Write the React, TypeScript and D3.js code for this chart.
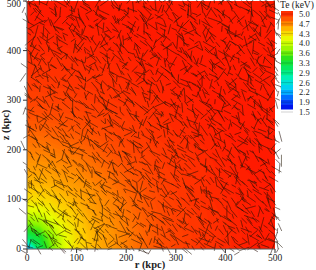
import React from "react";
import * as d3 from "d3";

// Te (keV) read on a 25 kpc mesh, first row is z = 0, first column r = 0
const teRows = [
  [2.0,3.0,3.55,3.95,4.2,4.35,4.45,4.52,4.6,4.67,4.74,4.8,4.84,4.87,4.9,4.92,4.95,4.97,5,5,5],
  [3.0,3.25,3.65,3.98,4.22,4.36,4.46,4.53,4.61,4.67,4.74,4.8,4.84,4.87,4.9,4.92,4.95,4.97,5,5,5],
  [3.55,3.65,3.9,4.1,4.28,4.4,4.48,4.55,4.62,4.69,4.75,4.81,4.85,4.88,4.9,4.93,4.95,4.97,5,5,5],
  [3.95,3.98,4.1,4.26,4.35,4.46,4.52,4.59,4.65,4.71,4.77,4.82,4.85,4.88,4.91,4.93,4.95,4.98,5,5,5],
  [4.2,4.22,4.28,4.35,4.44,4.49,4.55,4.6,4.67,4.73,4.79,4.83,4.87,4.9,4.92,4.94,4.96,4.98,5,5,5],
  [4.35,4.36,4.4,4.46,4.49,4.54,4.6,4.65,4.71,4.76,4.81,4.85,4.88,4.9,4.92,4.95,4.97,4.99,5,5,5],
  [4.45,4.46,4.48,4.52,4.55,4.6,4.64,4.69,4.75,4.79,4.83,4.86,4.89,4.91,4.93,4.95,4.97,4.99,5,5,5],
  [4.52,4.53,4.55,4.59,4.6,4.65,4.69,4.74,4.79,4.82,4.85,4.88,4.9,4.92,4.94,4.96,4.98,5,5,5,5],
  [4.6,4.61,4.62,4.65,4.67,4.71,4.75,4.79,4.82,4.85,4.87,4.89,4.91,4.93,4.95,4.97,4.99,5,5,5,5],
  [4.67,4.67,4.69,4.71,4.73,4.76,4.79,4.82,4.85,4.87,4.89,4.91,4.93,4.95,4.97,4.98,5,5,5,5,5],
  [4.74,4.74,4.75,4.77,4.79,4.81,4.83,4.85,4.87,4.89,4.91,4.93,4.95,4.96,4.98,4.99,5,5,5,5,5],
  [4.8,4.8,4.81,4.82,4.83,4.85,4.86,4.88,4.89,4.91,4.93,4.94,4.96,4.97,4.99,5,5,5,5,5,5],
  [4.84,4.84,4.85,4.85,4.87,4.88,4.89,4.9,4.91,4.93,4.95,4.96,4.97,4.99,5,5,5,5,5,5,5],
  [4.87,4.87,4.88,4.88,4.9,4.9,4.91,4.92,4.93,4.95,4.96,4.97,4.99,5,5,5,5,5,5,5,5],
  [4.9,4.9,4.9,4.91,4.92,4.92,4.93,4.94,4.95,4.97,4.98,4.99,5,5,5,5,5,5,5,5,5],
  [4.92,4.92,4.93,4.93,4.94,4.95,4.95,4.96,4.97,4.98,4.99,5,5,5,5,5,5,5,5,5,5],
  [4.95,4.95,4.95,4.95,4.96,4.97,4.97,4.98,4.99,5,5,5,5,5,5,5,5,5,5,5,5],
  [4.97,4.97,4.97,4.98,4.98,4.99,4.99,5,5,5,5,5,5,5,5,5,5,5,5,5,5],
  [5,5,5,5,5,5,5,5,5,5,5,5,5,5,5,5,5,5,5,5,5],
  [5,5,5,5,5,5,5,5,5,5,5,5,5,5,5,5,5,5,5,5,5],
  [5,5,5,5,5,5,5,5,5,5,5,5,5,5,5,5,5,5,5,5,5],
];
const meshStep = 25;

// field direction in degrees on a 20 kpc mesh, first row is z = 0
const fieldAngles = [
  [150,120,140,35,130,160,100,145,20,125,150,70,135,165,110,40,140,120,155,80,130,30,145,115,160,60],
  [130,145,115,150,135,60,150,125,140,100,30,155,120,75,145,130,165,50,125,150,95,135,20,155,120,70],
  [110,140,135,125,150,140,115,50,135,160,120,140,85,150,25,125,140,105,150,65,135,160,120,40,145,110],
  [125,135,150,130,120,145,135,150,105,130,145,60,130,115,155,140,80,150,125,35,145,110,160,130,75,150],
  [140,115,130,145,140,125,155,130,145,120,75,150,135,165,110,130,45,140,155,120,90,150,130,15,140,105],
  [150,135,120,135,150,110,140,125,55,145,130,110,155,40,135,150,120,70,140,165,125,50,145,130,100,155],
  [100,150,140,125,135,145,120,150,135,100,160,130,75,145,120,25,150,130,95,145,60,155,120,140,35,125],
  [135,125,145,155,115,130,150,40,125,145,115,150,135,90,160,130,110,155,45,125,150,80,135,165,120,145],
  [120,150,110,135,145,125,90,140,155,120,30,135,150,115,70,145,130,20,140,120,155,105,45,130,150,85],
  [145,70,130,150,120,140,135,115,65,150,130,105,160,125,140,50,150,120,85,155,130,140,110,150,30,135],
  [115,140,155,100,135,50,150,130,145,110,155,125,40,135,150,120,75,145,165,115,60,130,150,95,140,120],
  [30,125,145,130,160,120,105,150,35,135,120,150,80,140,115,155,130,25,120,150,100,140,55,135,160,110],
  [150,105,60,140,125,150,135,75,145,125,160,45,130,150,95,125,145,110,70,135,155,20,125,145,85,150],
  [125,155,135,110,40,145,120,155,100,140,65,135,150,110,35,145,130,160,120,50,140,115,150,130,65,120],
  [70,130,150,85,140,125,165,50,130,150,120,90,140,160,125,75,150,105,140,130,25,155,95,125,145,40],
  [140,35,120,155,115,60,135,145,110,25,150,135,105,55,145,120,30,140,155,85,125,150,60,140,110,155],
  [115,150,95,130,150,140,80,120,155,130,75,120,160,130,85,150,115,65,130,150,110,40,135,155,120,75],
  [55,135,160,120,45,155,125,40,135,100,145,50,125,145,20,135,155,120,90,35,145,125,85,150,30,130],
  [145,110,30,145,130,90,150,115,65,150,125,165,110,70,140,100,50,150,125,140,70,155,115,45,140,120],
  [100,60,140,120,75,125,30,140,155,120,40,135,85,150,125,60,140,115,155,30,130,95,150,125,75,155],
  [130,150,115,25,150,135,105,60,130,85,150,110,55,140,30,155,120,80,135,110,150,45,130,160,110,40],
  [40,120,85,145,110,50,155,125,145,35,120,150,130,70,120,145,95,35,150,125,60,140,105,25,145,125],
  [150,75,135,155,60,130,85,150,20,130,160,65,110,145,85,130,155,120,70,145,100,155,65,130,90,150],
  [110,145,40,115,140,160,120,45,135,105,50,140,120,30,155,110,45,140,125,30,150,120,40,145,115,60],
  [65,125,150,95,30,125,145,105,155,70,130,95,150,125,60,140,85,160,100,135,75,125,155,85,135,155],
  [140,30,110,140,125,70,120,150,40,125,145,20,115,155,90,125,150,55,130,150,35,110,145,50,120,95],
];
const fieldStep = 20;
// lengths and seed offsets in kpc, walked along the mesh
const fieldLengths = [14,20,10,24,16,12,22,18,10,26,15,19,11,23,17,13,21,11,25,16,20,12,24,14,18,10,22,15,27,12,19,17,13,23,11,21,16];
const seedShifts = [-6,3,8,-2,-9,5,0,-4,7,-7,2,9,-3,6,-8,1,4,-5,8,-1,-6,3,-9,7,0,5,-2,-7,9,-4,2,6,-8,4,-3,1,-5,8,-9,3,-1];
// staggered passes over the same mesh: r shift, z shift, column offset
const meshPasses = [[0, 0, 0], [10, 10, 7], [10, 0, 13]];

const tickValues = [0, 100, 200, 300, 400, 500];
const legendValues = ["5.0", "4.7", "4.3", "4.0", "3.6", "3.3", "2.9", "2.6", "2.2", "1.9", "1.5"];
const colorStops = [1.5, 1.9, 2.2, 2.6, 2.9, 3.3, 3.6, 4.0, 4.3, 4.7, 5.0];
const colorValues = ["#0000e8", "#0060ff", "#00c8ff", "#00f0c0", "#00ec70", "#20e020", "#88f400", "#e8ff00", "#ffcc00", "#ff6000", "#ff1a00"];

const x = d3.scaleLinear().domain([0, 500]).range([27, 275]);
const y = d3.scaleLinear().domain([0, 500]).range([249, 1]);
const color = d3.scaleLinear<string>().domain(colorStops).range(colorValues);
const barY = d3.scaleLinear().domain([1.5, 5]).range([112, 14]);
const labelY = d3.scalePoint<string>().domain(legendValues).range([14, 112]);

const serif = "'Liberation Serif', serif";

export default function App() {
  const n = teRows.length;
  const levels = d3.range(1.5, 5.001, 0.02);
  const bands = d3.contours().size([n, n]).smooth(true).thresholds(levels)(teRows.flat());
  // contour coords sit half a cell off the mesh
  const project = d3.geoTransform({
    point(px, py) {
      this.stream.point(x((px - 0.5) * meshStep), y((py - 0.5) * meshStep));
    },
  });
  const bandPath = d3.geoPath(project);

  const segments = meshPasses.flatMap(([dr, dz, col], p) =>
    fieldAngles.flatMap((row, j) =>
      row.map((_, i) => {
        const angle = row[(i + col) % row.length];
        const k = j * row.length + i + p * 11;
        const len = fieldLengths[k % fieldLengths.length];
        const r0 = i * fieldStep + dr + seedShifts[k % seedShifts.length];
        const z0 = j * fieldStep + dz + seedShifts[(k * 3 + j) % seedShifts.length];
        const a = (angle * Math.PI) / 180;
        return {
          x1: x(r0 - (Math.cos(a) * len) / 2),
          y1: y(z0 - (Math.sin(a) * len) / 2),
          x2: x(r0 + (Math.cos(a) * len) / 2),
          y2: y(z0 + (Math.sin(a) * len) / 2),
        };
      })
    )
  ).filter((s) => Math.max(s.x1, s.x2) < 283 && Math.max(s.y1, s.y2) < 255);

  const barBands = d3.range(1.5, 5.0001, 3.5 / 20);

  return (
    <svg width={316} height={270} style={{ position: "absolute", left: 0, top: 0 }}>
      <defs>
        <clipPath id="plot">
          <rect x={27} y={1} width={248} height={248} />
        </clipPath>
        <filter id="soft" x="-5%" y="-5%" width="110%" height="110%">
          <feGaussianBlur stdDeviation={0.35} />
        </filter>
      </defs>
      <g clipPath="url(#plot)">
        {bands.map((b, i) => (
          <path key={i} d={bandPath(b as any) ?? ""} fill={color(b.value)} />
        ))}
      </g>
      <g filter="url(#soft)">
        {segments.map((s, i) => (
          <line key={i} {...s} stroke="#20100a" strokeWidth={0.7} strokeOpacity={0.8} />
        ))}
        <line x1={27} x2={27} y1={1} y2={249} stroke="#555" />
        <line x1={27} x2={275} y1={249} y2={249} stroke="#555" />
        {tickValues.map((t) => (
          <g key={t} stroke="#333">
            <line x1={23} x2={27} y1={y(t)} y2={y(t)} />
            <line x1={x(t)} x2={x(t)} y1={249} y2={253} />
          </g>
        ))}
      </g>
      <g fontFamily={serif} fontSize={9.5} fill="#222">
        {tickValues.map((t) => (
          <text key={t} x={21} y={Math.max(y(t) + 3, 7)} textAnchor="end">{t}</text>
        ))}
        {tickValues.map((t) => (
          <text key={t} x={x(t)} y={261} textAnchor="middle">{t}</text>
        ))}
        <text x={150} y={268} fontWeight="bold" fontSize={10.5} textAnchor="middle">r (kpc)</text>
        <text transform="translate(9,125) rotate(-90)" fontWeight="bold" fontSize={10.5} textAnchor="middle">z (kpc)</text>
        <text x={280} y={8} fontSize={9.5}>Te (keV)</text>
      </g>
      {barBands.slice(0, -1).map((v, i) => (
        <rect key={i} x={281} width={12} y={barY(barBands[i + 1]) - 3} height={barY(v) - barY(barBands[i + 1]) + 0.5} fill={color(v + 3.5 / 40)} />
      ))}
      {legendValues.map((v) => (
        <g key={v}>
          <line x1={281} x2={293} y1={labelY(v)} y2={labelY(v)} stroke="#000" strokeOpacity={0.3} strokeWidth={0.6} />
          <text x={299} y={(labelY(v) ?? 0) + 3} fontFamily={serif} fontSize={8.5} fill="#222">{v}</text>
        </g>
      ))}
    </svg>
  );
}
